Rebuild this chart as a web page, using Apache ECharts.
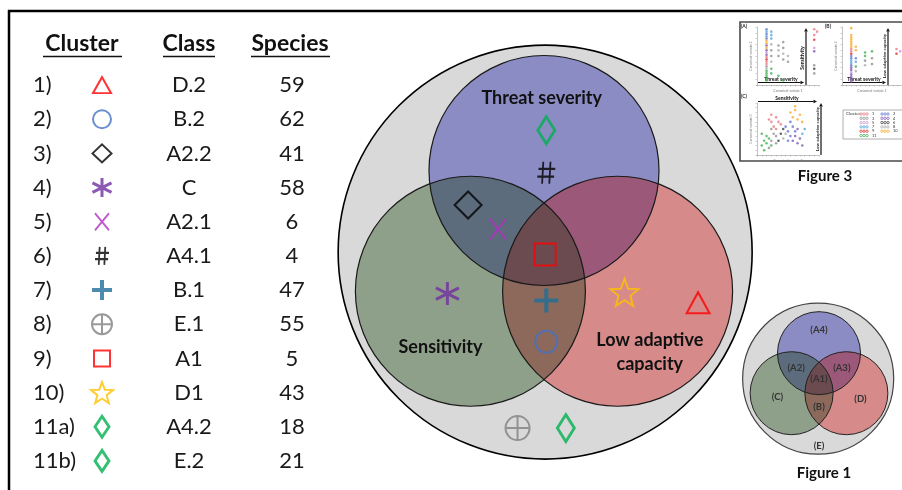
<!DOCTYPE html>
<html><head><meta charset="utf-8">
<script src="https://cdn.jsdelivr.net/npm/echarts@6/dist/echarts.min.js"></script>
<style>html,body{margin:0;padding:0;background:#fff}#c{width:902px;height:490px}</style>
</head><body><div id="c"></div>
<script>
// ---------------- DATA ----------------
const tableHeaders = ['Cluster', 'Class', 'Species'];
const clusterLabels = ['1)', '2)', '3)', '4)', '5)', '6)', '7)', '8)', '9)', '10)', '11a)', '11b)'];
const clusterSymbols = ['triangle', 'circle', 'diamond', 'asterisk', 'cross', 'hash', 'plus', 'circlePlus', 'square', 'star', 'diamondTall', 'diamondTall'];
const classLabels = ['D.2', 'B.2', 'A2.2', 'C', 'A2.1', 'A4.1', 'B.1', 'E.1', 'A1', 'D1', 'A4.2', 'E.2'];
const speciesCounts = [59, 62, 41, 58, 6, 4, 47, 55, 5, 43, 18, 21];

// Venn diagram (unit = set radius)
const vennSets = ['Threat severity', 'Sensitivity', 'Low adaptive capacity'];
const vennCenters = [[0, 0.70], [-0.64, -0.35], [0.64, -0.35]];
const vennUniverse = [0.01, -0.01, 1.8];
const vennLabelPos = [[-0.02, 1.33], [-0.90, -0.84], [0.92, -0.88]];
// where each cluster sits in the diagram (same order as clusterLabels)
const clusterPositions = [[1.34, -0.45], [0.02, -0.79], [-0.66, 0.40], [-0.84, -0.37], [-0.40, 0.19], [0.02, 0.68],
  [0.02, -0.43], [-0.23, -1.54], [0.01, -0.03], [0.70, -0.36], [0.02, 1.05], [0.19, -1.54]];

// Figure 1 (small Venn)
const fig1Centers = [[0, 0.61], [-0.66, -0.30], [0.66, -0.30]];
const fig1Universe = [-0.02, 0.03, 1.82];
const fig1Regions = ['(A4)', '(A2)', '(A3)', '(A1)', '(C)', '(B)', '(D)', '(E)'];
const fig1RegionPos = [[0, 1.13], [-0.55, 0.27], [0.55, 0.27], [0, 0.02], [-1.0, -0.39], [0, -0.61], [1.0, -0.43], [0, -1.50]];

// Figure 3 thumbnails: [canonical variate 1, canonical variate 2, cluster]
const fig3PanelA = [[2,9.6,2],[2,9.2,7],[2,8.8,2],[2,8.4,7],[2,8.0,2],[2,7.6,10],[2,7.2,10],[2,6.8,4],[2,6.4,10],[2,6.0,4],[2,5.6,5],[2,5.2,4],[2,4.8,1],[2,4.4,9],[2,4.0,1],[2,3.6,1],[2,3.2,3],[2,2.8,8],[2,2.4,11],[2,2.0,11],[2,1.6,11],[2,1.2,11],[2,0.8,11],
  [3,9.2,7],[3,8.6,7],[3,8.0,7],[3,7.0,8],[3,6.0,3],[3,5.0,3],[3,4.0,8],[3,2.8,11],[3,2.0,11],
  [4.5,6.8,3],[4.5,6.0,8],[4.5,5.0,3],[4.5,1.6,11],[5.5,7.4,3],[5.5,6.4,3],[5.5,5.4,8],[5.5,4.4,3],[5.5,0.8,11],[6.5,5.0,8],[6.5,4.0,3],
  [12,9.6,1],[12.6,9.2,1],[12,8.6,1],[12,7.8,9],[12,6.4,5],[12,5.8,4],[12,3.4,3],[12,2.8,6],[12,2.0,3]];
const fig3PanelB = [[2,9.8,10],[2,8.6,10],[2,8.2,10],[2,7.8,10],[2,7.4,10],[2,7.0,10],[2,6.6,10],[2,6.2,1],[2,5.8,1],[2,5.4,9],[2,5.0,2],[2,4.6,2],[2,4.2,7],[2,3.8,7],[2,3.4,2],[2,3.0,4],[2,2.6,4],[2,2.2,5],[2,1.8,4],[2,1.4,4],[2,1.0,4],[2,0.6,4],
  [3,6.6,10],[3,6.0,10],[3,4.6,2],[3,4.0,7],[3,3.2,11],[3,2.4,8],[5,5.6,11],[5,5.0,11],[5,4.2,3],[5,3.4,8],[6.5,5.8,11],[6.5,4.6,3],[6.5,3.6,3],
  [11.8,6.2,1],[11.8,5.4,9],[12.6,5.8,5]];
const fig3PanelC = [[1,2,11],[1.5,3,11],[2,2.5,11],[2,4,11],[2.5,3.5,11],[1,4.5,11],[3,2,11],[1.5,1,11],
  [2.5,1.5,3],[3,3,3],[3.5,4.5,3],[3,5.5,3],[4,2.5,3],[4,4,3],
  [3,7,1],[3.5,6,1],[4,8,1],[4.5,7,1],[4,5.5,1],[5,6.5,1],[3,8.5,1],[2.5,7.5,1],
  [4.5,3,6],[5,4.5,6],[5.5,3.5,8],[5.5,5.5,6],[6,4.5,8],
  [6,6,2],[6.5,5,2],[7,7,2],[7,4,2],[7.5,6,2],[8,5,2],[6.5,3,2],
  [7.5,3,4],[8,4,4],[8.5,2.5,4],[9,3.5,4],[8.5,5.5,4],[9.5,2,4],
  [7,9,10],[7.5,8,10],[8,9.5,10],[8.5,7.5,10],[9,8.5,10],[9.5,7,10],[8,10.3,10],
  [9.5,4.5,7],[10,5.5,7]];
const fig3LegendA = [1, 3, 5, 7, 9, 11];
const fig3LegendB = [2, 4, 6, 8, 10];

// ---------------- STYLE ----------------
const FONT = 'Lato, "Open Sans", sans-serif';
function starPath() {
  let p = '';
  for (let k = 0; k < 10; k++) {
    const r = k % 2 ? 4.2 : 10, a = -Math.PI / 2 + k * Math.PI / 5;
    p += (k ? 'L' : 'M') + (10 + r * Math.cos(a)).toFixed(2) + ',' + (10 + r * Math.sin(a)).toFixed(2);
  }
  return 'path://' + p + 'Z';
}
const SYM = {
  triangle:   { symbol: 'triangle', color: '#ff0000', w: 2, table: [18, 16], venn: [23, 21] },
  circle:     { symbol: 'circle', color: '#4472c4', w: 2, table: [18, 18], venn: [22, 22] },
  diamond:    { symbol: 'diamond', color: '#000000', w: 2, table: [19, 18], venn: [27, 27] },
  asterisk:   { symbol: 'path://M10,0L10,20M1.34,5L18.66,15M1.34,15L18.66,5', color: '#7030a0', w: 3, table: [19, 19], venn: [23, 23] },
  cross:      { symbol: 'path://M0,0L14,18M14,0L0,18', color: '#b030c0', w: 2, table: [14, 17], venn: [16, 21] },
  hash:       { symbol: 'path://M5,0L4,20M11,0L10,20M1,6.5L15,6.5M0,13.5L14,13.5', color: '#000000', w: 2, table: [14, 18], venn: [18, 22] },
  plus:       { symbol: 'path://M10,0L10,20M0,10L20,10', color: '#1f6e9a', w: 4, table: [20, 20], venn: [24, 24] },
  circlePlus: { symbol: 'path://M20,10A10,10,0,1,1,0,10A10,10,0,1,1,20,10ZM10,0L10,20M0,10L20,10', color: '#808080', w: 2, table: [20, 20], venn: [24, 24] },
  square:     { symbol: 'rect', color: '#ff0000', w: 2, table: [16, 16], venn: [21, 22] },
  star:       { symbol: starPath(), color: '#ffc000', w: 2, table: [22, 21], venn: [28, 27] },
  diamondTall:{ symbol: 'diamond', color: '#00b050', w: 3, table: [14, 21], venn: [17, 27] }
};
// region fills: single sets, pairwise overlaps, triple overlap
const REGIONS = [[0], [1], [2], [0, 1], [0, 2], [1, 2], [0, 1, 2]];
const REGION_FILLS = ['#8c8cc4', '#8fa08a', '#d68a8a', '#5d6c7d', '#9c5878', '#8c695a', '#6b4a50'];
const CL = { 1: '#e8737a', 2: '#5a6fd0', 3: '#8a8a8a', 4: '#7a4fb0', 5: '#c490d6', 6: '#333333', 7: '#4aa0d8', 8: '#a8a8a8', 9: '#e02020', 10: '#f5a623', 11: '#3aaa4a' };

function hidden(grid, min, max, extra) {
  return Object.assign({ gridIndex: grid, type: 'value', min: min, max: max, show: false }, extra || {});
}
function circleSeries(name, grid, data, fill, stroke, lw) {
  return {
    type: 'custom', name: name, xAxisIndex: grid, yAxisIndex: grid, silent: true, clip: false,
    data: data,
    renderItem: function (params, api) {
      const c = api.coord([api.value(0), api.value(1)]);
      const r = api.size([api.value(2), api.value(2)])[0];
      return { type: 'circle', shape: { cx: c[0], cy: c[1], r: r }, style: { fill: fill, stroke: stroke, lineWidth: lw } };
    }
  };
}
// filled overlap regions computed from the set circles
function regionSeries(name, grid, centers) {
  return {
    type: 'custom', name: name, xAxisIndex: grid, yAxisIndex: grid, silent: true, clip: false,
    data: REGIONS.map((r, i) => [0, 0, i]),
    renderItem: function (params, api) {
      const combo = REGIONS[params.dataIndex];
      const cs = centers.map(c => api.coord(c));
      const r = api.size([1, 1])[0];
      const fill = REGION_FILLS[params.dataIndex];
      if (combo.length === 1) {
        return { type: 'circle', shape: { cx: cs[combo[0]][0], cy: cs[combo[0]][1], r: r }, style: { fill: fill } };
      }
      const pts = [];
      combo.forEach(k => {
        for (let s = 0; s < 1440; s++) {
          const a = s / 1440 * 2 * Math.PI;
          const x = cs[k][0] + r * Math.cos(a), y = cs[k][1] + r * Math.sin(a);
          if (combo.every(m => m === k || Math.hypot(x - cs[m][0], y - cs[m][1]) <= r + 0.05)) pts.push([x, y]);
        }
      });
      let mx = 0, my = 0;
      pts.forEach(p => { mx += p[0]; my += p[1]; });
      mx /= pts.length; my /= pts.length;
      pts.sort((p, q) => Math.atan2(p[1] - my, p[0] - mx) - Math.atan2(q[1] - my, q[0] - mx));
      return { type: 'polygon', shape: { points: pts }, style: { fill: fill } };
    }
  };
}
function textSeries(name, grid, data, texts, font, color, lh) {
  return {
    type: 'custom', name: name, xAxisIndex: grid, yAxisIndex: grid, silent: true, clip: false,
    data: data,
    renderItem: function (params, api) {
      const c = api.coord([api.value(0), api.value(1)]);
      return { type: 'text', x: c[0], y: c[1], style: { text: texts[params.dataIndex], font: font, fill: color,
        align: 'center', verticalAlign: 'middle', textAlign: 'center', textVerticalAlign: 'middle', lineHeight: lh } };
    }
  };
}
function symItem(key, value, sizeKey) {
  const s = SYM[key];
  return { value: value, symbol: s.symbol, symbolSize: s[sizeKey],
    itemStyle: { color: 'none', borderColor: s.color, borderWidth: s.w } };
}
function panelAxes(grid, ymax, xname, yname) {
  const line = { lineStyle: { color: '#9a9a9a', width: 0.6 } };
  return [
    { gridIndex: grid, type: 'value', min: 0, max: 13, interval: 1, axisLine: line, axisTick: { show: true, length: 1.5, lineStyle: { color: '#9a9a9a', width: 0.5 } },
      axisLabel: { show: false }, splitLine: { show: false }, name: xname, nameLocation: 'middle', nameGap: 4, nameTextStyle: { fontSize: 3.5, color: '#777', fontFamily: FONT } },
    { gridIndex: grid, type: 'value', min: 0, max: ymax, interval: 1, axisLine: line, axisTick: { show: true, length: 1.5, lineStyle: { color: '#9a9a9a', width: 0.5 } },
      axisLabel: { show: false }, splitLine: { show: false }, name: yname, nameLocation: 'middle', nameGap: 4, nameRotate: 90, nameTextStyle: { fontSize: 3.5, color: '#777', fontFamily: FONT } }
  ];
}
function panelSeries(grid, pts) {
  return { type: 'scatter', xAxisIndex: grid, yAxisIndex: grid, silent: true, symbol: 'circle', symbolSize: 2.6,
    data: pts, itemStyle: { color: function (p) { return CL[p.value[2]]; }, opacity: 0.75 } };
}
function arrow(x1, y1, x2, y2, lw) {
  const a = Math.atan2(y2 - y1, x2 - x1), L = 3.5, W = 1.8;
  const bx = x2 - L * Math.cos(a), by = y2 - L * Math.sin(a);
  return [
    { type: 'line', shape: { x1: x1, y1: y1, x2: bx, y2: by }, style: { stroke: '#111', lineWidth: lw } },
    { type: 'polygon', shape: { points: [[x2, y2], [bx - W * Math.sin(a), by + W * Math.cos(a)], [bx + W * Math.sin(a), by - W * Math.cos(a)]] }, style: { fill: '#111' } }
  ];
}
function gtext(x, y, text, font, color, rot, align) {
  return { type: 'text', x: x, y: y, rotation: rot || 0,
    style: { text: text, font: font, fill: color || '#000', textAlign: align || 'center', textVerticalAlign: 'middle', align: align || 'center', verticalAlign: 'middle' } };
}

// ---------------- LAYOUT ----------------
const TABLE_X = { num: 33, sym: 102, cls: 189, sp: 292 };
const headerX = [82, 189, 290];
const headerSpan = [[43, 122], [163, 215], [251, 330]];

const grids = [
  { left: 314, top: 21, width: 460, height: 460 },   // 0 big Venn
  { left: 0, top: 68, width: 902, height: 410 },     // 1 table
  { left: 736, top: 292, width: 176, height: 176 },  // 2 Figure 1
  { left: 757, top: 27, width: 62, height: 58 },     // 3 Figure 3 (A)
  { left: 842, top: 27, width: 62, height: 58 },     // 4 Figure 3 (B)
  { left: 757, top: 103, width: 62, height: 52 }     // 5 Figure 3 (C)
];
const pA = panelAxes(3, 10, 'Canonical variate 1', 'Canonical variate 2');
const pB = panelAxes(4, 10, 'Canonical variate 1', 'Canonical variate 2');
const pC = panelAxes(5, 11, 'Canonical variate 2', 'Canonical variate 3');

const xAxes = [hidden(0, -2, 2), hidden(1, 0, 902), hidden(2, -2, 2), pA[0], pB[0], pC[0]];
const yAxes = [hidden(0, -2, 2), { gridIndex: 1, type: 'category', data: clusterLabels, inverse: true, show: false },
  hidden(2, -2, 2), pA[1], pB[1], pC[1]];

const series = [
  // big Venn
  circleSeries('universe', 0, [vennUniverse], '#d9d9d9', '#000', 1.6),
  regionSeries('regions', 0, vennCenters),
  circleSeries('outlines', 0, vennCenters.map(c => [c[0], c[1], 1]), 'none', '#1a1a1a', 1.2),
  textSeries('setLabels', 0, vennLabelPos, vennSets.map(s => s.replace('adaptive ', 'adaptive\n')), 'bold 18px ' + FONT, '#111', 24),
  { type: 'scatter', xAxisIndex: 0, yAxisIndex: 0, silent: true,
    data: clusterSymbols.map((s, i) => symItem(s, clusterPositions[i], 'venn')) },
  // table
  { type: 'scatter', xAxisIndex: 1, yAxisIndex: 1, silent: true,
    data: clusterSymbols.map((s, i) => symItem(s, [TABLE_X.sym, i], 'table')) },
  { type: 'custom', name: 'tableText', xAxisIndex: 1, yAxisIndex: 1, silent: true, clip: false,
    data: clusterLabels.map((l, i) => [0, i]),
    renderItem: function (params, api) {
      const i = params.dataIndex;
      const y = api.coord([0, i])[1];
      const f = '22px ' + FONT, col = '#1a1a1a';
      const mk = (x, t, al) => ({ type: 'text', x: api.coord([x, i])[0], y: y,
        style: { text: t, font: f, fill: col, align: al, verticalAlign: 'middle', textAlign: al, textVerticalAlign: 'middle' } });
      return { type: 'group', children: [mk(TABLE_X.num, clusterLabels[i], 'left'), mk(TABLE_X.cls, classLabels[i], 'center'), mk(TABLE_X.sp, String(speciesCounts[i]), 'center')] };
    } },
  // Figure 1
  circleSeries('fig1Universe', 2, [fig1Universe], '#d9d9d9', '#444', 1.2),
  regionSeries('fig1RegionFills', 2, fig1Centers),
  circleSeries('fig1Outlines', 2, fig1Centers.map(c => [c[0], c[1], 1]), 'none', '#222', 1),
  textSeries('fig1Labels', 2, fig1RegionPos, fig1Regions, 'bold 9.5px ' + FONT, '#333', 12),
  // Figure 3
  panelSeries(3, fig3PanelA), panelSeries(4, fig3PanelB), panelSeries(5, fig3PanelC)
];

// decorations
const gfx = [];
gfx.push({ type: 'line', shape: { x1: 8, y1: 11, x2: 902, y2: 11 }, style: { stroke: '#000', lineWidth: 2.5 } });
gfx.push({ type: 'line', shape: { x1: 9, y1: 10, x2: 9, y2: 490 }, style: { stroke: '#000', lineWidth: 2.5 } });
tableHeaders.forEach((h, i) => {
  gfx.push(gtext(headerX[i], 44, h, 'bold 23px ' + FONT, '#111'));
  gfx.push({ type: 'line', shape: { x1: headerSpan[i][0], y1: 56.5, x2: headerSpan[i][1], y2: 56.5 }, style: { stroke: '#111', lineWidth: 1.5 } });
});
// Figure 3 frame and annotations
gfx.push({ type: 'rect', shape: { x: 740, y: 22, width: 166, height: 139 }, style: { fill: 'none', stroke: '#4a4a4a', lineWidth: 1.6 } });
gfx.push(gtext(741, 26, '(A)', 'bold 5px ' + FONT, '#222', 0, 'left'));
gfx.push(gtext(825, 26, '(B)', 'bold 5px ' + FONT, '#222', 0, 'left'));
gfx.push(gtext(741, 96, '(C)', 'bold 5px ' + FONT, '#222', 0, 'left'));
arrow(758, 82.5, 804, 82.5, 1.2).forEach(e => gfx.push(e));
gfx.push(gtext(781, 79.5, 'Threat severity', 'bold 5px ' + FONT, '#111'));
arrow(806, 85, 806, 28, 1.2).forEach(e => gfx.push(e));
gfx.push(gtext(802.5, 58, 'Sensitivity', 'bold 5px ' + FONT, '#111', Math.PI / 2));
arrow(843, 82.5, 886, 82.5, 1.2).forEach(e => gfx.push(e));
gfx.push(gtext(864, 79.5, 'Threat severity', 'bold 5px ' + FONT, '#111'));
arrow(888, 85, 888, 28, 1.2).forEach(e => gfx.push(e));
gfx.push(gtext(884.5, 56, 'Low adaptive capacity', 'bold 4.5px ' + FONT, '#111', Math.PI / 2));
arrow(758, 101.5, 817, 101.5, 1.2).forEach(e => gfx.push(e));
gfx.push(gtext(787, 98.5, 'Sensitivity', 'bold 5px ' + FONT, '#111'));
arrow(821, 155, 821, 103, 1.2).forEach(e => gfx.push(e));
gfx.push(gtext(817.5, 129, 'Low adaptive capacity', 'bold 4.5px ' + FONT, '#111', Math.PI / 2));
// Figure 3 legend
gfx.push({ type: 'rect', shape: { x: 843, y: 110, width: 62, height: 29 }, style: { fill: '#fff', stroke: '#9a9a9a', lineWidth: 0.8 } });
gfx.push(gtext(846, 114, 'Cluster', '4.5px ' + FONT, '#333', 0, 'left'));
fig3LegendA.forEach((c, k) => {
  const y = 114 + k * 4.3;
  [861, 864, 867].forEach(x => gfx.push({ type: 'circle', shape: { cx: x, cy: y, r: 1.2 }, style: { fill: 'none', stroke: CL[c], lineWidth: 0.7 } }));
  gfx.push(gtext(872, y, String(c), '4px ' + FONT, '#333', 0, 'left'));
});
fig3LegendB.forEach((c, k) => {
  const y = 114 + k * 4.3;
  [882, 885, 888].forEach(x => gfx.push({ type: 'circle', shape: { cx: x, cy: y, r: 1.2 }, style: { fill: 'none', stroke: CL[c], lineWidth: 0.7 } }));
  gfx.push(gtext(893, y, String(c), '4px ' + FONT, '#333', 0, 'left'));
});
gfx.push(gtext(825, 176, 'Figure 3', 'bold 15px ' + FONT, '#111'));
gfx.push(gtext(824, 473, 'Figure 1', 'bold 15px ' + FONT, '#111'));

const chart = echarts.init(document.getElementById('c'), null, { width: 902, height: 490 });
chart.setOption({
  backgroundColor: '#ffffff',
  animation: false,
  grid: grids,
  xAxis: xAxes,
  yAxis: yAxes,
  series: series,
  graphic: { elements: gfx }
});
</script>
</body></html>
